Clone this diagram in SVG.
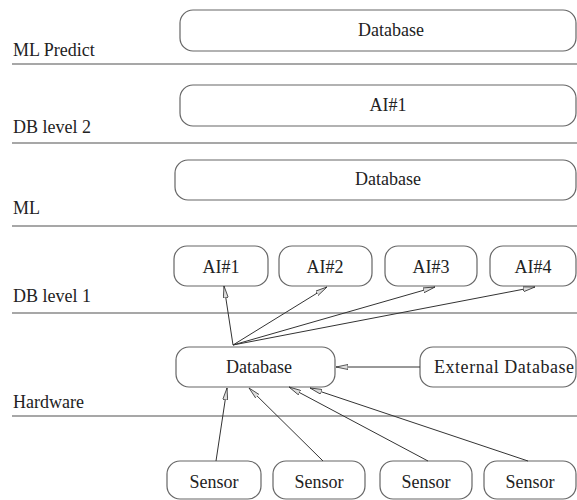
<svg xmlns="http://www.w3.org/2000/svg" width="577" height="500" viewBox="0 0 577 500" font-family="Liberation Serif, DejaVu Serif, serif">
<style>
text{font-size:18px;fill:#222}
.c{text-anchor:middle}
.box{fill:#fff;stroke:#666;stroke-width:1.2}
.sep{stroke:#8a8a8a;stroke-width:1.6}
.arr{stroke:#333;stroke-width:1;fill:none;marker-end:url(#ah)}
</style>
<defs>
<marker id="ah" viewBox="0 0 12 6" refX="12" refY="3" markerWidth="12" markerHeight="6" markerUnits="userSpaceOnUse" orient="auto">
<path d="M0,0.5 L12,3 L0,5.5 Z" fill="#ddd" stroke="#333" stroke-width="0.8"/>
</marker>
</defs>
<g id="layers">
<line class="sep" x1="12" y1="64" x2="577" y2="64"/>
<line class="sep" x1="12" y1="143" x2="577" y2="143"/>
<line class="sep" x1="12" y1="226" x2="577" y2="226"/>
<line class="sep" x1="12" y1="313" x2="577" y2="313"/>
<line class="sep" x1="12" y1="416" x2="577" y2="416"/>
<text x="13" y="56">ML Predict</text>
<text x="13" y="133">DB level 2</text>
<text x="13" y="214">ML</text>
<text x="13" y="302">DB level 1</text>
<text x="13" y="408">Hardware</text>
</g>
<g id="db-predict"><rect class="box" x="180" y="10" width="396" height="41" rx="13"/><text class="c" x="391" y="36">Database</text></g>
<g id="ai-level2"><rect class="box" x="180" y="85" width="396" height="41" rx="13"/><text class="c" x="388" y="111">AI#1</text></g>
<g id="db-ml"><rect class="box" x="175" y="160" width="401" height="40" rx="13"/><text class="c" x="388" y="185">Database</text></g>
<g id="ai1"><rect class="box" x="174" y="246" width="94" height="40" rx="13"/><text class="c" x="221" y="273">AI#1</text></g>
<g id="ai2"><rect class="box" x="279" y="246" width="93" height="40" rx="13"/><text class="c" x="325" y="273">AI#2</text></g>
<g id="ai3"><rect class="box" x="385" y="246" width="92" height="40" rx="13"/><text class="c" x="431" y="273">AI#3</text></g>
<g id="ai4"><rect class="box" x="490" y="246" width="86" height="40" rx="13"/><text class="c" x="533" y="273">AI#4</text></g>
<g id="db-hw"><rect class="box" x="176" y="347" width="159" height="40" rx="13"/><text class="c" x="259" y="373">Database</text></g>
<g id="ext-db"><rect class="box" x="420" y="347" width="156" height="40" rx="13"/><text x="434" y="373" textLength="140" lengthAdjust="spacing">External  Database</text></g>
<g id="sensor1"><rect class="box" x="167" y="461" width="94" height="38" rx="13"/><text class="c" x="214" y="488">Sensor</text></g>
<g id="sensor2"><rect class="box" x="273" y="461" width="92" height="38" rx="13"/><text class="c" x="319" y="488">Sensor</text></g>
<g id="sensor3"><rect class="box" x="380" y="461" width="92" height="38" rx="13"/><text class="c" x="426" y="488">Sensor</text></g>
<g id="sensor4"><rect class="box" x="484" y="461" width="92" height="38" rx="13"/><text class="c" x="530" y="488">Sensor</text></g>
<g id="connectors">
<line class="arr" x1="233" y1="345" x2="224" y2="286"/>
<line class="arr" x1="233" y1="345" x2="327" y2="287"/>
<line class="arr" x1="233" y1="345" x2="435" y2="287"/>
<line class="arr" x1="233" y1="345" x2="535" y2="287"/>
<line class="arr" x1="420" y1="367" x2="336" y2="367"/>
<line class="arr" x1="216" y1="461" x2="227" y2="388"/>
<line class="arr" x1="323" y1="461" x2="249" y2="388"/>
<line class="arr" x1="428" y1="461" x2="289" y2="387"/>
<line class="arr" x1="528" y1="461" x2="310" y2="388"/>
</g>
</svg>
